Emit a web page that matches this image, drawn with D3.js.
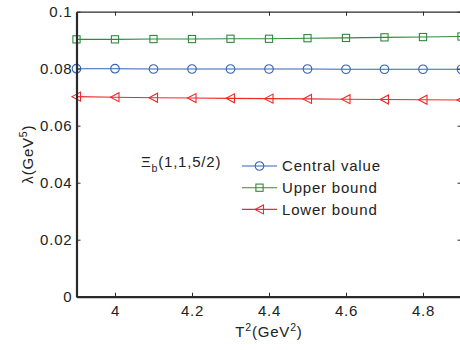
<!DOCTYPE html>
<html>
<head>
<meta charset="utf-8">
<script src="https://cdn.jsdelivr.net/npm/d3@7"></script>
<style>
  html, body { margin: 0; padding: 0; background: #fff; }
  svg { display: block; }
  text { font-family: "Liberation Sans", Arial, sans-serif; fill: #222; letter-spacing: 0.8px; }
</style>
</head>
<body>
<svg id="chart" width="460" height="350"></svg>
<script>
// Borel parameter T^2 (GeV^2)
const tSquared = [3.9, 4.0, 4.1, 4.2, 4.3, 4.4, 4.5, 4.6, 4.7, 4.8, 4.9];
// pole residue lambda (GeV^5)
const centralValue = [0.0800, 0.0800, 0.0799, 0.0799, 0.0799, 0.0799, 0.0799, 0.0798, 0.0798, 0.0798, 0.0798];
const upperBound   = [0.0903, 0.0903, 0.0904, 0.0904, 0.0905, 0.0905, 0.0907, 0.0908, 0.0910, 0.0911, 0.0913];
const lowerBound   = [0.0702, 0.0700, 0.0698, 0.0697, 0.0696, 0.0695, 0.0694, 0.0693, 0.0692, 0.0691, 0.0690];
const xTicks = [4, 4.2, 4.4, 4.6, 4.8];
const yTicks = [0, 0.02, 0.04, 0.06, 0.08, 0.1];
const seriesNames = ["Central value", "Upper bound", "Lower bound"];

const svg = d3.select("#chart");
const plotLeft = 76.5, plotRight = 461.5, plotTop = 11.7, plotBottom = 296.7;
const fontSize = "15px";

const x = d3.scaleLinear().domain([3.9, 4.9]).range([plotLeft, plotRight]);
const y = d3.scaleLinear().domain([0, 0.1]).range([plotBottom, plotTop]);

const series = [
  { name: seriesNames[0], values: centralValue, color: "#3563b5", marker: "circle" },
  { name: seriesNames[1], values: upperBound,   color: "#2f8a3c", marker: "square" },
  { name: seriesNames[2], values: lowerBound,   color: "#ec2b2b", marker: "triangle" }
];

function drawMarker(g, type, color) {
  if (type === "circle") {
    g.append("circle").attr("r", 4.3).attr("fill", "none").attr("stroke", color).attr("stroke-width", 1.1);
  } else if (type === "square") {
    g.append("rect").attr("x", -3.6).attr("y", -3.6).attr("width", 7.2).attr("height", 7.2)
      .attr("fill", "none").attr("stroke", color).attr("stroke-width", 1.1);
  } else {
    g.append("path").attr("d", "M-4.5,0 L4,-4.5 L4,4.5 Z")
      .attr("fill", "none").attr("stroke", color).attr("stroke-width", 1.1);
  }
}

// data lines and markers
const line = d3.line().x(d => x(d[0])).y(d => y(d[1]));
series.forEach(s => {
  const pts = tSquared.map((t, i) => [t, s.values[i]]);
  svg.append("path").attr("d", line(pts)).attr("fill", "none")
    .attr("stroke", s.color).attr("stroke-width", 1.1);
  pts.forEach(p => {
    const g = svg.append("g").attr("transform", `translate(${x(p[0])},${y(p[1])})`);
    drawMarker(g, s.marker, s.color);
  });
});

// axes
const axisColor = "#2a2a2a";
const bottomAxis = svg.append("g").attr("transform", `translate(0,${plotBottom})`)
  .call(d3.axisBottom(x).tickValues(xTicks).tickFormat(d3.format("")).tickSizeInner(-4).tickSizeOuter(0).tickPadding(9));
const leftAxis = svg.append("g").attr("transform", `translate(${plotLeft},0)`)
  .call(d3.axisLeft(y).tickValues(yTicks).tickFormat(d => d === 0 ? "0" : d3.format("")(d)).tickSizeInner(-4).tickSizeOuter(0).tickPadding(4));
const topAxis = svg.append("g").attr("transform", `translate(0,${plotTop})`)
  .call(d3.axisTop(x).tickValues(xTicks).tickFormat("").tickSizeInner(-4).tickSizeOuter(0));
const rightAxis = svg.append("g").attr("transform", `translate(${plotRight},0)`)
  .call(d3.axisRight(y).tickValues(yTicks).tickFormat("").tickSizeInner(-4).tickSizeOuter(0));

[bottomAxis, leftAxis].forEach(a => {
  a.select(".domain").attr("stroke", axisColor).attr("stroke-width", 2.2);
  a.selectAll(".tick line").attr("stroke", axisColor).attr("stroke-width", 1);
  a.selectAll(".tick text").style("font-size", fontSize).attr("fill", "#222")
    .style("font-family", "'Liberation Sans', Arial, sans-serif");
});
[topAxis, rightAxis].forEach(a => {
  a.select(".domain").attr("stroke", axisColor).attr("stroke-width", 1.2);
  a.selectAll(".tick line").attr("stroke", axisColor).attr("stroke-width", 1);
});

// axis titles
const xt = svg.append("text").attr("x", 269).attr("y", 337).attr("text-anchor", "middle")
  .style("font-size", fontSize);
xt.append("tspan").text("T");
xt.append("tspan").attr("dy", -6).style("font-size", "10.5px").text("2");
xt.append("tspan").attr("dy", 6).text("(GeV");
xt.append("tspan").attr("dy", -6).style("font-size", "10.5px").text("2");
xt.append("tspan").attr("dy", 6).text(")");

const yt = svg.append("text").attr("transform", `translate(33,${(plotTop + plotBottom) / 2}) rotate(-90)`)
  .attr("text-anchor", "middle").style("font-size", fontSize);
yt.append("tspan").text("λ(GeV");
yt.append("tspan").attr("dy", -6).style("font-size", "10.5px").text("5");
yt.append("tspan").attr("dy", 6).text(")");

// state label
const lab = svg.append("text").attr("x", 141).attr("y", 167).style("font-size", fontSize);
lab.append("tspan").text("Ξ");
lab.append("tspan").attr("dy", 5).style("font-size", "10.5px").text("b");
lab.append("tspan").attr("dy", -5).text("(1,1,5/2)");

// legend
const legend = svg.append("g");
series.forEach((s, i) => {
  const ly = 166 + i * 21.7;
  legend.append("line").attr("x1", 242).attr("x2", 277).attr("y1", ly).attr("y2", ly)
    .attr("stroke", s.color).attr("stroke-width", 1.1);
  const g = legend.append("g").attr("transform", `translate(259.5,${ly})`);
  drawMarker(g, s.marker, s.color);
  legend.append("text").attr("x", 282).attr("y", ly + 5.4).style("font-size", fontSize).text(s.name);
});
</script>
</body>
</html>
